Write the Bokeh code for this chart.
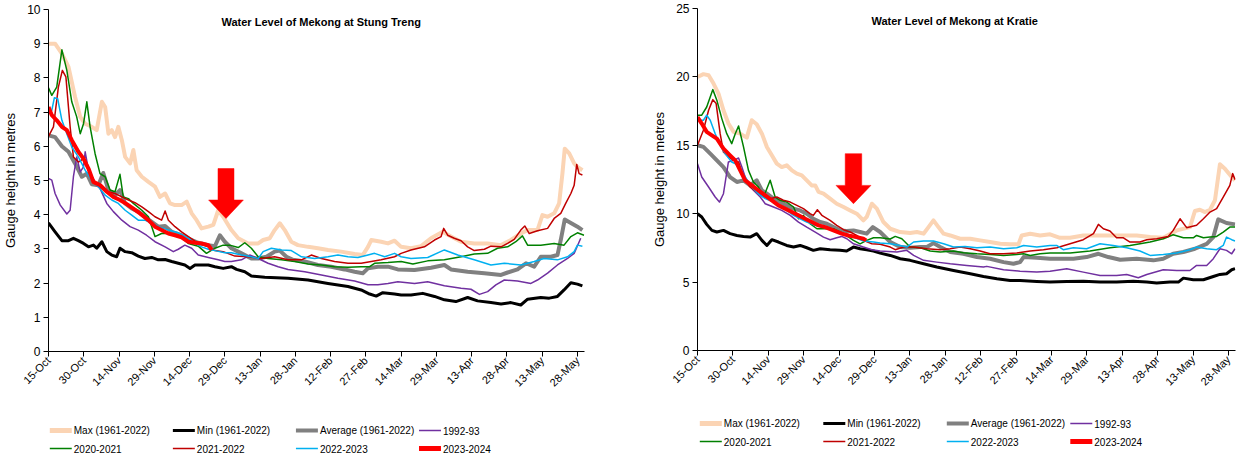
import math
from bokeh.plotting import figure
from bokeh.models import Label, FixedTicker, Range1d, ColumnDataSource
from bokeh.core.properties import value
from bokeh.layouts import row, column
from bokeh.embed import file_html
from bokeh.resources import INLINE

# ---------------- data (day offset from 15-Oct, gauge height in metres) ----------------
TICK_DAYS = [0, 15, 30, 45, 60, 75, 90, 105, 120, 135, 150, 165, 180, 195, 210, 225]
TICK_LABELS = ["15-Oct", "30-Oct", "14-Nov", "29-Nov", "14-Dec", "29-Dec", "13-Jan", "28-Jan",
               "12-Feb", "27-Feb", "14-Mar", "29-Mar", "13-Apr", "28-Apr", "13-May", "28-May"]

SERIES_NAMES = ["Max (1961-2022)", "Min (1961-2022)", "Average (1961-2022)", "1992-93",
                "2020-2021", "2021-2022", "2022-2023", "2023-2024"]

# Stung Treng
ST_MAX = [(0,9.00),(2.8,9.00),(5.7,8.71),(8.5,8.32),(11.3,7.44),(13.5,6.86),(15.6,6.66),(18.4,6.57),(20.5,6.47),(22.7,7.30),(24.1,7.15),(25.5,6.37),(26.9,6.47),(28.3,6.27),(29.7,6.57),(31.2,6.18),(32.6,5.69),(34.7,5.50),(36.1,5.89),(37.5,5.30),(39.7,5.11),(42.5,4.96),(45.3,4.82),(47.4,4.52),(49.6,4.62),(51.7,4.33),(53.8,4.28),(56.6,4.28),(58.8,4.38),(60.9,4.04),(63.0,3.84),(65.1,3.60),(68.0,3.65),(70.1,3.70),(72.2,4.13),(74.3,3.94),(77.8,3.55),(80.7,3.31),(84.9,3.16),(89.2,3.16),(91.3,3.26),(94.1,3.31),(96.2,3.55),(98.4,3.75),(100.5,3.55),(103.3,3.21),(106.1,3.11),(110.4,3.06),(114.6,3.02),(118.9,2.97),(124.5,2.92),(130.2,2.85),(133.7,2.82),(135.9,3.06),(137.3,3.26),(141.5,3.21),(144.4,3.16),(147.2,3.24),(150,3.06),(154.2,3.02),(158.5,3.08),(162.7,3.31),(167.7,3.50),(171.2,3.36),(175.5,3.21),(181.1,3.16),(186.8,3.16),(192.5,3.11),(196.7,3.26),(200.9,3.45),(203.8,3.55),(208.0,3.55),(210.1,3.99),(212.3,3.94),(215.1,4.04),(217.2,4.33),(218.6,5.20),(219.6,5.93),(221.5,5.79),(223.6,5.50),(225.0,5.40),(227.1,5.30)]
ST_MIN = [(0,3.76),(2.8,3.50),(5.7,3.24),(8.5,3.24),(10.6,3.31),(12.7,3.24),(14.9,3.16),(17.0,3.06),(19.1,3.11),(20.5,3.02),(22.7,3.21),(24.8,2.92),(26.9,2.82),(29.0,2.77),(30.4,3.02),(32.6,2.92),(35.4,2.89),(38.2,2.79),(41.0,2.72),(43.9,2.75),(46.7,2.68),(49.6,2.69),(52.4,2.63),(55.2,2.58),(58.0,2.53),(60.2,2.43),(62.3,2.53),(65.1,2.53),(68.0,2.53),(70.8,2.48),(74.3,2.43),(77.8,2.48),(80.0,2.40),(83.5,2.33),(86.3,2.21),(92.0,2.17),(101.9,2.14),(110.4,2.09),(118.9,1.99),(127.4,1.90),(133.0,1.80),(136.6,1.68),(139.4,1.62),(142.2,1.72),(147.2,1.68),(150,1.65),(154.2,1.65),(159.2,1.70),(164.2,1.61),(168.4,1.51),(173.3,1.46),(178.3,1.58),(182.5,1.48),(188.2,1.43),(192.5,1.39),(196.7,1.43),(200.9,1.36),(203.8,1.53),(209.4,1.58),(213.0,1.56),(216.5,1.61),(219.3,1.80),(222.2,2.01),(225.0,1.97),(227.1,1.92)]
ST_AVG = [(0,6.32),(2.8,6.27),(5.7,6.00),(8.5,5.84),(11.3,5.50),(14.2,5.11),(16.3,5.20),(18.4,4.89),(21.2,4.86),(23.3,5.22),(25.5,4.72),(28.3,4.57),(30.4,4.72),(32.6,4.33),(35.4,4.18),(38.2,4.09),(41.0,3.94),(43.9,3.79),(46.7,3.65),(49.6,3.67),(52.4,3.50),(56.6,3.40),(60.2,3.28),(63.7,3.18),(68.0,3.11),(70.8,3.08),(72.9,3.40),(75.0,3.21),(77.8,3.02),(82.1,2.87),(86.3,2.72),(89.2,2.72),(92.7,2.77),(96.2,2.92),(98.4,2.95),(101.2,2.77),(104.0,2.68),(109.0,2.63),(114.6,2.53),(120.3,2.48),(125.9,2.40),(130.2,2.33),(133.7,2.29),(135.9,2.43),(140.1,2.48),(144.4,2.48),(148.6,2.40),(155.7,2.38),(162.7,2.45),(168.4,2.53),(171.2,2.40),(178.3,2.33),(185.4,2.29),(192.5,2.24),(195.3,2.31),(199.5,2.40),(203.1,2.58),(206.6,2.48),(209.4,2.77),(213.7,2.77),(216.5,2.82),(217.9,3.26),(219.6,3.86),(222.2,3.76),(225.0,3.65),(227.1,3.55)]
ST_1992 = [(0,5.06),(1.4,5.01),(2.8,4.62),(5.0,4.28),(7.8,4.02),(9.2,4.13),(10.6,5.11),(12.0,5.69),(13.5,5.25),(14.9,5.40),(15.6,5.84),(17.0,5.30),(19.1,4.96),(21.9,4.77),(24.8,4.33),(27.6,4.09),(31.2,3.84),(34.7,3.65),(38.2,3.55),(41.7,3.40),(45.3,3.21),(49.6,3.06),(53.1,2.92),(55.2,2.99),(58.0,3.11),(60.9,3.02),(63.7,2.82),(68.0,2.75),(72.2,2.68),(75.0,2.63),(77.8,2.63),(82.1,2.68),(85.6,2.82),(89.2,2.72),(93.4,2.58),(97.7,2.48),(101.9,2.40),(109.0,2.33),(116.1,2.24),(123.1,2.14),(130.2,2.06),(135.9,1.95),(140.1,1.95),(144.4,1.99),(148.6,2.04),(155.7,1.99),(161.3,2.04),(168.4,1.92),(175.5,1.85),(179.7,1.82),(183.3,1.67),(186.8,1.75),(190.3,1.95),(193.9,2.09),(199.5,2.06),(205.2,1.99),(208.0,2.09),(212.3,2.29),(216.5,2.53),(220.8,2.72),(223.6,2.87),(226.4,3.31)]
ST_2020 = [(0,7.71),(1.4,7.49),(3.5,7.73),(5.7,8.82),(7.8,8.22),(9.9,7.30),(12.0,6.86),(13.5,6.37),(14.9,6.66),(16.3,7.30),(17.7,6.57),(19.8,5.79),(21.9,5.20),(24.1,5.11),(26.2,4.72),(28.3,4.67),(30.4,5.18),(31.8,4.52),(34.0,4.47),(36.1,4.33),(39.7,4.13),(42.5,3.94),(45.3,3.36),(48.1,3.45),(51.7,3.45),(55.2,3.40),(59.5,3.16),(63.7,3.08),(67.2,2.87),(70.8,3.02),(74.3,3.11),(77.1,3.11),(80.7,3.04),(83.5,3.18),(86.3,3.02),(89.2,2.77),(93.4,2.72),(99.1,2.68),(104.7,2.63),(110.4,2.56),(116.1,2.53),(121.7,2.48),(127.4,2.46),(133.0,2.48),(136.6,2.48),(138.7,2.58),(144.4,2.60),(150.0,2.63),(155.0,2.56),(161.3,2.65),(168.4,2.68),(175.5,2.77),(181.1,2.85),(186.8,2.87),(191.0,3.02),(195.3,3.06),(198.8,3.21),(201.6,3.38),(203.8,3.11),(209.4,3.11),(215.1,3.16),(219.3,3.11),(222.2,3.36),(225.0,3.47),(227.8,3.40)]
ST_2021 = [(0,6.29),(2.1,6.57),(4.2,7.73),(5.9,8.22),(7.4,8.03),(9.2,6.57),(10.6,5.69),(12.7,5.54),(14.9,5.64),(17.0,5.30),(19.8,4.96),(22.7,4.82),(25.5,4.67),(28.3,4.62),(31.2,4.52),(34.0,4.43),(36.8,4.35),(39.7,4.23),(42.5,4.09),(45.3,3.94),(48.1,3.84),(49.6,4.11),(51.0,3.84),(53.8,3.65),(56.6,3.50),(59.5,3.36),(63.7,3.16),(68.0,3.06),(70.8,2.95),(74.3,2.92),(79.3,2.79),(84.9,2.77),(90.6,2.72),(96.2,2.77),(101.9,2.68),(107.6,2.68),(111.8,2.82),(116.1,2.72),(121.7,2.63),(127.4,2.58),(133.0,2.58),(137.3,2.63),(141.5,2.68),(147.2,2.77),(150,2.87),(154.2,2.97),(159.9,3.06),(164.2,3.26),(167.0,3.36),(168.1,3.60),(169.8,3.40),(172.6,3.31),(175.5,3.24),(178.3,3.06),(181.1,2.95),(185.4,2.99),(188.2,3.08),(192.5,3.06),(195.3,3.16),(198.1,3.28),(200.9,3.55),(202.6,3.67),(204.5,3.45),(208.0,3.53),(212.3,3.60),(215.1,3.89),(217.9,4.04),(220.0,4.33),(222.2,4.62),(223.6,4.86),(224.7,5.47),(225.7,5.20),(227.1,5.16)]
ST_2022 = [(0,6.96),(1.4,7.05),(2.5,7.42),(3.9,7.39),(5.7,6.76),(7.8,6.37),(9.9,5.98),(12.7,5.69),(15.6,5.30),(18.4,5.01),(21.2,4.82),(24.1,4.57),(26.9,4.43),(29.7,4.33),(32.6,4.13),(35.4,3.99),(38.2,3.84),(41.0,3.84),(43.9,3.75),(46.7,3.65),(51.0,3.55),(55.2,3.47),(59.5,3.31),(62.3,3.16),(65.1,3.06),(68.0,2.99),(70.8,2.95),(75.0,2.89),(77.8,2.89),(82.1,2.82),(86.3,2.77),(89.2,2.72),(91.3,2.92),(94.8,3.02),(99.1,2.97),(103.3,2.95),(107.6,2.77),(113.2,2.72),(118.9,2.77),(123.1,2.82),(127.4,2.77),(131.6,2.75),(135.9,2.82),(138.7,2.87),(143.0,2.77),(147.2,2.87),(150,2.77),(154.2,2.72),(161.3,2.75),(168.4,2.97),(174.1,2.82),(181.1,2.68),(188.2,2.53),(193.9,2.58),(200.9,2.53),(206.6,2.63),(210.8,2.72),(216.5,2.68),(220.8,2.77),(223.6,2.92),(225.0,3.11),(227.1,3.08)]
ST_2023 = [(0,7.15),(1.4,6.91),(3.5,6.76),(5.7,6.57),(7.8,6.47),(9.9,6.18),(12.7,5.84),(14.9,5.64),(17.0,5.35),(19.1,4.96),(22.0,4.86),(24.8,4.67),(27.6,4.52),(30.4,4.43),(33.3,4.31),(36.1,4.18),(38.9,4.04),(42.5,3.84),(45.3,3.65),(48.1,3.55),(51.0,3.45),(53.8,3.40),(56.6,3.34),(59.5,3.21),(62.3,3.18),(65.1,3.16),(68.0,3.11),(69.4,2.97)]

# Kratie
KR_MAX = [(0,20.0),(2.5,20.20),(4.7,20.12),(6.8,19.51),(8.9,18.78),(11.0,17.56),(13.1,16.59),(15.3,15.98),(18.1,15.85),(20.9,15.56),(23.0,16.83),(25.1,16.54),(27.3,15.85),(29.4,14.88),(31.5,14.27),(33.6,13.66),(35.7,13.41),(37.8,13.54),(40.0,13.17),(42.1,12.93),(44.2,12.80),(46.3,12.44),(48.4,12.07),(49.9,12.07),(51.3,11.59),(53.4,11.46),(56.2,11.10),(59.0,10.73),(61.9,10.49),(64.7,10.24),(67.5,10.0),(70.3,9.51),(71.7,9.76),(73.9,10.73),(76.0,10.37),(78.8,9.39),(81.7,8.90),(85.9,8.66),(90.1,8.59),(93.0,8.66),(95.8,8.54),(97.9,9.02),(100.0,9.51),(102.1,9.02),(104.3,8.54),(107.1,8.41),(111.3,8.17),(115.6,8.17),(119.8,8.05),(124.0,7.93),(128.3,7.80),(132.5,7.76),(136.0,7.76),(137.4,8.41),(141.0,8.54),(145.2,8.41),(149.4,8.49),(153.6,8.24),(157.9,8.24),(163.5,8.41),(169.2,8.41),(177.6,8.41),(186.1,8.41),(191.8,8.29),(197.4,8.24),(203.1,8.78),(208.7,9.02),(210.8,10.20),(212.9,10.29),(215.1,10.12),(217.2,10.29),(219.3,10.98),(221.4,13.61),(223.5,13.29),(226.4,12.68),(227.8,12.44)]
KR_MIN = [(0,10.0),(1.8,9.76),(3.9,9.22),(6.1,8.78),(8.2,8.66),(11.0,8.78),(13.8,8.54),(16.7,8.41),(19.5,8.34),(22.3,8.29),(25.1,8.54),(27.3,8.05),(29.4,7.68),(31.5,8.10),(34.3,7.93),(37.8,7.68),(40.7,7.56),(43.5,7.68),(46.3,7.51),(49.1,7.32),(52.0,7.44),(56.2,7.37),(60.4,7.32),(63.2,7.27),(66.1,7.56),(68.9,7.44),(71.7,7.37),(74.6,7.27),(77.4,7.12),(81.7,6.95),(85.9,6.71),(90.1,6.59),(95.8,6.34),(101.4,6.10),(108.5,5.85),(115.6,5.61),(121.2,5.41),(126.9,5.24),(132.5,5.12),(136.7,5.12),(143.8,5.05),(149.4,5.0),(156.5,5.05),(163.5,5.07),(170.6,5.0),(177.6,5.0),(184.7,5.07),(190.4,5.0),(194.6,4.93),(200.2,5.0),(203.8,5.0),(205.9,5.29),(210.1,5.17),(214.4,5.17),(218.6,5.41),(221.4,5.56),(224.2,5.61),(226.4,5.90),(227.8,5.98)]
KR_AVG = [(0,15.0),(2.5,14.88),(5.4,14.39),(8.2,13.90),(11.0,13.41),(13.8,12.68),(16.7,12.32),(19.5,12.44),(22.3,12.07),(25.1,12.44),(27.3,11.71),(29.4,11.46),(32.2,11.10),(35.0,10.85),(37.8,10.61),(40.7,10.37),(43.5,10.24),(46.3,10.0),(49.1,9.63),(52.0,9.39),(54.8,9.27),(57.6,9.02),(60.4,8.78),(63.2,8.73),(66.1,8.78),(68.9,8.66),(71.7,8.54),(74.3,9.02),(77.4,8.66),(81.7,7.93),(85.9,7.56),(90.1,7.51),(94.4,7.56),(97.2,7.56),(100.0,7.85),(102.9,7.56),(107.1,7.20),(112.7,7.07),(118.4,6.83),(124.0,6.71),(129.7,6.46),(133.9,6.34),(136.7,6.46),(138.2,6.83),(143.8,6.78),(149.4,6.71),(153.6,6.71),(159.3,6.71),(164.9,6.83),(169.9,7.07),(174.1,6.83),(179.1,6.63),(186.1,6.71),(193.2,6.59),(197.4,6.71),(201.6,7.07),(205.9,7.20),(210.8,7.44),(215.8,7.80),(218.6,8.29),(220.7,9.59),(224.2,9.32),(227.8,9.22)]
KR_1992 = [(0,13.66),(1.8,12.68),(4.7,11.95),(7.5,11.22),(9.3,10.85),(11.0,11.46),(13.1,13.78),(15.3,13.90),(17.4,14.07),(18.8,13.41),(20.9,12.32),(23.7,11.71),(26.6,11.22),(28.7,10.73),(32.2,10.49),(35.7,10.24),(39.3,9.88),(42.8,9.39),(46.3,9.02),(49.9,8.66),(53.4,8.29),(56.2,8.10),(59.0,8.24),(61.1,8.34),(63.3,8.17),(66.1,7.80),(70.3,7.56),(73.9,7.37),(77.4,7.27),(84.5,7.20),(88.7,7.32),(91.6,6.95),(95.8,6.59),(101.4,6.46),(107.1,6.34),(114.1,6.22),(121.2,6.10),(122.6,6.15),(129.7,5.90),(136.7,5.80),(143.8,5.73),(149.4,5.80),(156.5,5.98),(163.5,5.73),(170.6,5.49),(177.6,5.49),(181.9,5.56),(186.8,5.32),(190.4,5.56),(197.4,5.90),(203.1,5.85),(208.7,5.85),(211.5,6.22),(215.8,6.22),(218.6,6.71),(221.4,7.44),(224.2,7.32),(226.4,7.07),(227.8,7.44)]
KR_2020 = [(0,17.20),(1.8,17.20),(3.9,17.80),(6.5,19.07),(8.2,18.29),(10.3,16.95),(12.4,15.85),(14.5,15.12),(16.0,15.85),(17.4,16.41),(19.5,14.88),(21.6,13.17),(23.7,12.32),(25.8,11.95),(28.0,11.22),(30.8,12.44),(32.9,11.22),(35.0,10.98),(37.8,10.85),(40.7,10.49),(42.8,9.63),(44.9,9.88),(47.7,9.27),(50.6,8.90),(53.4,8.90),(57.6,8.90),(61.9,8.54),(66.1,8.05),(68.9,7.80),(71.7,8.05),(74.6,8.24),(77.4,8.24),(81.7,8.15),(83.8,8.34),(86.6,8.17),(90.1,7.56),(94.4,7.51),(98.6,7.27),(102.9,7.20),(108.5,7.27),(112.7,7.15),(118.4,7.07),(124.0,7.02),(129.7,6.95),(135.3,7.02),(138.2,7.07),(141.0,6.95),(145.2,7.07),(149.4,7.12),(157.9,7.12),(166.3,7.27),(174.8,7.51),(183.3,7.68),(191.8,7.93),(197.4,8.17),(201.6,8.46),(205.9,8.24),(210.1,8.24),(211.5,8.41),(214.4,8.24),(217.2,8.29),(220.0,8.34),(222.8,8.66),(225.6,9.02),(227.8,9.02)]
KR_2021 = [(0,15.0),(2.5,16.10),(4.7,17.56),(6.5,18.34),(7.9,18.05),(9.6,15.85),(11.0,14.51),(13.1,14.15),(15.3,13.90),(17.4,13.78),(19.5,12.68),(22.3,11.95),(25.1,11.59),(28.0,11.22),(30.8,11.10),(33.6,11.22),(36.4,10.98),(39.3,10.85),(42.1,10.61),(44.9,10.37),(47.7,10.0),(49.1,9.88),(50.8,10.29),(52.7,9.88),(56.2,9.51),(59.0,9.15),(61.9,8.83),(64.7,8.66),(67.5,8.41),(70.3,8.05),(73.9,7.80),(77.4,7.76),(81.7,7.56),(83.8,7.37),(87.3,7.56),(91.6,7.56),(97.2,7.44),(102.9,7.37),(107.1,7.44),(111.3,7.56),(115.6,7.44),(119.8,7.27),(124.0,7.07),(129.7,7.07),(135.3,7.12),(141.0,7.27),(146.6,7.37),(152.3,7.51),(157.9,7.80),(163.5,8.10),(167.8,8.54),(169.9,9.22),(172.0,8.90),(174.8,8.73),(177.6,8.24),(180.5,8.24),(183.3,7.93),(187.5,7.93),(190.4,8.10),(194.6,8.17),(199.5,8.34),(201.6,8.78),(204.5,9.63),(207.3,8.98),(211.5,9.15),(214.4,9.63),(217.2,10.12),(220.0,10.37),(222.8,11.22),(225.6,12.07),(226.8,12.93),(227.8,12.49)]
KR_2022 = [(0,16.83),(2.5,16.83),(3.9,17.20),(5.4,16.83),(7.5,15.85),(9.6,15.0),(11.7,14.39),(14.5,13.78),(17.4,13.54),(20.2,12.68),(23.0,11.95),(25.8,11.46),(28.7,11.10),(32.2,10.85),(35.0,10.61),(37.8,10.24),(40.7,9.88),(43.5,9.63),(46.3,9.39),(49.9,9.15),(53.4,9.02),(57.6,8.78),(61.9,8.54),(66.1,8.29),(70.3,8.0),(74.6,7.93),(77.4,7.85),(81.7,7.80),(85.9,7.68),(88.7,7.56),(91.6,7.93),(95.8,8.0),(100.0,8.0),(104.3,7.80),(108.5,7.56),(113.4,7.61),(118.4,7.51),(124.0,7.56),(129.7,7.44),(135.3,7.51),(138.2,7.68),(143.8,7.56),(149.4,7.68),(152.2,7.68),(155.0,7.37),(159.3,7.51),(164.9,7.44),(170.6,7.80),(176.2,7.68),(181.9,7.51),(187.5,7.27),(191.8,6.95),(197.4,7.02),(203.1,7.12),(208.7,7.37),(211.5,7.56),(215.8,7.44),(220.0,7.37),(222.8,7.68),(224.2,8.29),(226.4,8.10),(227.8,8.0)]
KR_2023 = [(0,17.07),(1.8,16.59),(3.9,15.98),(6.1,15.73),(8.2,15.49),(11.0,14.76),(13.8,14.27),(16.0,13.90),(18.1,13.17),(20.2,12.44),(23.0,12.07),(25.8,11.71),(28.7,11.34),(31.5,10.98),(34.3,10.61),(37.1,10.37),(40.0,10.12),(42.8,9.88),(45.6,9.63),(48.4,9.39),(51.3,9.15),(54.1,9.02),(57.6,8.78),(61.1,8.54),(64.0,8.41),(67.5,8.29),(70.3,8.17),(71.5,8.05)]

# arrow annotations: centre day, tip, head top, shaft top (metres), half widths (days)
ST_ARROW = dict(day=75.5, tip=3.89, head_top=4.43, shaft_top=5.35, head_half=7.4, shaft_half=3.4)
KR_ARROW = dict(day=66.1, tip=10.73, head_top=12.07, shaft_top=14.39, head_half=7.4, shaft_half=3.5)

# ---------------- styles / layout ----------------
COLORS = ["#FBD4B4", "#000000", "#808080", "#7030A0", "#008000", "#C00000", "#00B0F0", "#FF0000"]
LINE_WIDTHS = [4, 3, 4, 1.5, 1.5, 1.5, 1.5, 4]
LEGEND_WIDTHS = [5, 3, 4, 1.5, 1.5, 1.5, 1.5, 5]
FONT = "Liberation Sans"
CHART_H = 395
LEGEND_H = 59
GLYPH_LEN = 22


def make_chart(title, title_day, title_val, series, y_end, y_step, arrow,
               width, border_left, border_right, border_top, border_bottom):
    p = figure(width=width, height=CHART_H, output_backend="svg", toolbar_location=None,
               x_range=Range1d(0, 228), y_range=Range1d(0, y_end),
               min_border_left=border_left, min_border_right=border_right,
               min_border_top=border_top, min_border_bottom=border_bottom)
    p.outline_line_color = None
    p.xgrid.visible = False
    p.ygrid.visible = False
    p.background_fill_color = "white"
    p.border_fill_color = "white"

    p.xaxis.ticker = FixedTicker(ticks=TICK_DAYS)
    p.xaxis.major_label_overrides = {d: l for d, l in zip(TICK_DAYS, TICK_LABELS)}
    p.xaxis.major_label_orientation = math.pi / 4
    p.xaxis.major_label_text_font = FONT
    p.xaxis.major_label_text_font_size = "11px"
    p.xaxis.major_label_text_color = "black"
    p.xaxis.minor_tick_line_color = None
    p.xaxis.major_tick_out = 5
    p.xaxis.major_tick_in = 0
    p.xaxis.axis_line_color = "black"
    p.xaxis.major_tick_line_color = "black"
    p.xaxis.major_label_standoff = 2

    p.yaxis.ticker = FixedTicker(ticks=list(range(0, y_end + 1, y_step)))
    p.yaxis.major_label_text_font = FONT
    p.yaxis.major_label_text_font_size = "12px"
    p.yaxis.major_label_text_color = "black"
    p.yaxis.minor_tick_line_color = None
    p.yaxis.major_tick_out = 5
    p.yaxis.major_tick_in = 0
    p.yaxis.axis_line_color = "black"
    p.yaxis.major_tick_line_color = "black"
    p.yaxis.major_label_standoff = 3
    p.yaxis.axis_label = "Gauge height in metres"
    p.yaxis.axis_label_text_font = FONT
    p.yaxis.axis_label_text_font_style = "normal"
    p.yaxis.axis_label_text_font_size = "13px"
    p.yaxis.axis_label_text_color = "black"
    p.yaxis.axis_label_standoff = 6

    for pts, color, lw in zip(series, COLORS, LINE_WIDTHS):
        xs = [d for d, v in pts]
        ys = [v for d, v in pts]
        p.line(xs, ys, line_color=color, line_width=lw, line_join="round")

    a = arrow
    ax = [a["day"] - a["shaft_half"], a["day"] + a["shaft_half"], a["day"] + a["shaft_half"],
          a["day"] + a["head_half"], a["day"], a["day"] - a["head_half"], a["day"] - a["shaft_half"]]
    ay = [a["shaft_top"], a["shaft_top"], a["head_top"], a["head_top"], a["tip"], a["head_top"], a["head_top"]]
    p.patch(ax, ay, fill_color="#FF0000", line_color="#FF0000", line_width=0.5)

    p.add_layout(Label(x=title_day, y=title_val, text=title, text_font=FONT,
                       text_font_style="bold", text_font_size="11px", text_color="black",
                       text_align="center", text_baseline="middle"))
    return p


def make_legend(width, frame_w, border_left, border_right, x0, pitch, row_y):
    # legend strip; its frame lines up with the chart frame, data units = pixels
    q = figure(width=width, height=LEGEND_H, output_backend="svg", toolbar_location=None,
               x_range=Range1d(0, frame_w), y_range=Range1d(LEGEND_H, 0),
               x_axis_type=None, y_axis_type=None,
               min_border_left=border_left, min_border_right=border_right,
               min_border_top=0, min_border_bottom=0)
    q.outline_line_color = None
    q.background_fill_color = "white"
    q.border_fill_color = "white"
    gx0, gx1, gy, tx = [], [], [], []
    for i in range(len(SERIES_NAMES)):
        c, r = i % 4, i // 4
        gx0.append(x0 + c * pitch)
        gx1.append(x0 + c * pitch + GLYPH_LEN)
        gy.append(row_y[r])
        tx.append(x0 + c * pitch + GLYPH_LEN + 2)
    src = ColumnDataSource(dict(x0=gx0, x1=gx1, y=gy, tx=tx, color=COLORS,
                                lw=LEGEND_WIDTHS, label=SERIES_NAMES))
    q.segment(x0="x0", y0="y", x1="x1", y1="y", line_color="color", line_width="lw", source=src)
    q.text(x="tx", y="y", text="label", source=src, text_font=value(FONT),
           text_font_size="10px", text_color="black", text_align="left", text_baseline="middle")
    return q


# left frame x 47..584, y 9..352 ; right frame x 697..1235, y 8..350
p1 = make_chart("Water Level of Mekong at Stung Treng", 116, 9.62,
                [ST_MAX, ST_MIN, ST_AVG, ST_1992, ST_2020, ST_2021, ST_2022, ST_2023],
                10, 1, ST_ARROW, width=618, border_left=47, border_right=34,
                border_top=9, border_bottom=43)
l1 = make_legend(618, 537, 47, 34, 1.3, 123.3, [35, 53])
p2 = make_chart("Water Level of Mekong at Kratie", 109, 24.1,
                [KR_MAX, KR_MIN, KR_AVG, KR_1992, KR_2020, KR_2021, KR_2022, KR_2023],
                25, 5, KR_ARROW, width=618, border_left=79, border_right=1,
                border_top=8, border_bottom=45)
l2 = make_legend(618, 538, 79, 1, 2.3, 123.5, [28, 46])

layout = row(column(p1, l1), column(p2, l2))
open("out.html", "w").write(file_html(layout, INLINE))
